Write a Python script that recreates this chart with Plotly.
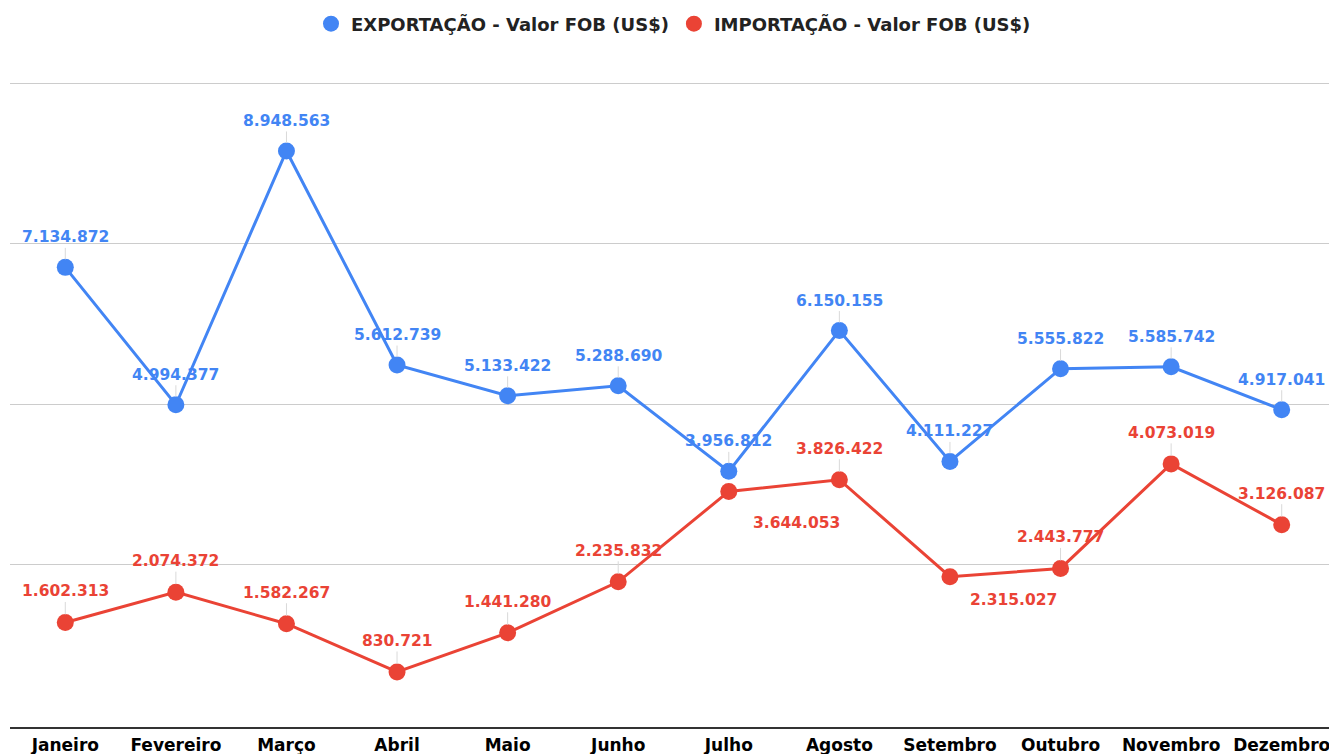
import plotly.graph_objects as go

months = ["Janeiro", "Fevereiro", "Março", "Abril", "Maio", "Junho",
          "Julho", "Agosto", "Setembro", "Outubro", "Novembro", "Dezembro"]
export_vals = [7134872, 4994377, 8948563, 5612739, 5133422, 5288690,
               3956812, 6150155, 4111227, 5555822, 5585742, 4917041]
import_vals = [1602313, 2074372, 1582267, 830721, 1441280, 2235832,
               3644053, 3826422, 2315027, 2443777, 4073019, 3126087]
export_name = "EXPORTAÇÃO - Valor FOB (US$)"
import_name = "IMPORTAÇÃO - Valor FOB (US$)"

BLUE = "#4285F4"
RED = "#EA4335"
FONT = "DejaVu Sans"

# label offsets (pixels): (dx, dy_up, leader)
exp_off = [(0, 30, True)] * 12
imp_off = [(0, 31, True)] * 12
imp_off[6] = (68, -32, False)
imp_off[8] = (64, -23, False)


def fmt(v):
    return f"{v:,}".replace(",", ".")


fig = go.Figure()
for name, vals, col in [(export_name, export_vals, BLUE), (import_name, import_vals, RED)]:
    fig.add_trace(go.Scatter(x=list(range(12)), y=vals, mode="lines+markers",
                             line=dict(color=col, width=3),
                             marker=dict(color=col, size=17),
                             showlegend=False, hoverinfo="skip"))
for name, col in [(export_name, BLUE), (import_name, RED)]:
    fig.add_trace(go.Scatter(x=[None], y=[None], mode="markers", name=name,
                             marker=dict(color=col, size=16)))

annotations = []
for vals, offs, col in [(export_vals, exp_off, BLUE), (import_vals, imp_off, RED)]:
    for i, (v, (dx, dy, leader)) in enumerate(zip(vals, offs)):
        common = dict(x=i, y=v, xref="x", yref="y", text=fmt(v),
                      font=dict(family=FONT, size=15.5, color=col, weight="bold"))
        if leader:
            annotations.append(dict(**common, showarrow=True, ax=dx, ay=-dy,
                                    arrowhead=0, arrowwidth=1, arrowcolor="#d9d9d9",
                                    standoff=8))
        else:
            annotations.append(dict(**common, showarrow=False, xshift=dx, yshift=dy))

fig.update_layout(
    width=1329, height=746,
    margin=dict(l=2, r=0, t=74, b=27, autoexpand=False),
    paper_bgcolor="white", plot_bgcolor="white",
    annotations=annotations,
    legend=dict(orientation="h", x=0.5, xanchor="center",
                yref="container", y=0.9786, yanchor="middle",
                font=dict(family=FONT, size=18, color="#222", weight="bold")),
    xaxis=dict(range=[-0.5, 11.5], tickmode="array", tickvals=list(range(12)),
               ticktext=months, showgrid=False, zeroline=False,
               showline=True, linecolor="#333", linewidth=1.5,
               ticklabelstandoff=2,
               tickfont=dict(family=FONT, size=17, color="#000", weight="bold")),
    yaxis=dict(range=[-26500, 10023000], tickmode="array",
               tickvals=[2500000, 5000000, 7500000, 10000000], showticklabels=False,
               showgrid=True, gridcolor="#cccccc", gridwidth=1, zeroline=False),
)

fig.write_html("out.html")
